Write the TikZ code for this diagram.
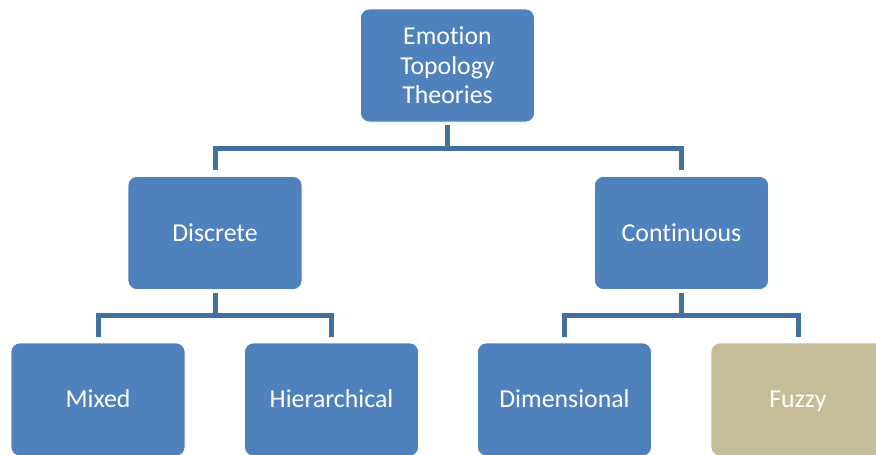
\documentclass[tikz,border=0pt]{standalone}
\usepackage{fontspec}
\setmainfont[Ligatures=NoCommon]{Carlito}
\definecolor{boxblue}{HTML}{4F81BD}
\definecolor{linkblue}{HTML}{41719C}
\definecolor{tan}{HTML}{C4BD97}
\begin{document}
\begin{tikzpicture}[x=1pt,y=-1pt,
  box/.style={rectangle, rounded corners=9pt, fill=boxblue, draw=white, line width=0.6pt,
    minimum width=174pt, minimum height=113pt, text=white, align=center,
    font=\fontsize{25.8pt}{29.5pt}\selectfont, inner sep=0pt},
  single/.style={box, text height=16.6pt, text depth=0pt},
  tanbox/.style={single, fill=tan},
  conn/.style={draw=linkblue, line width=5pt, line join=miter}]
\useasboundingbox (0,0) rectangle (876,455);
\clip (0,0) rectangle (876,455);
\node[box] (top) at (447.5,65.5) {Emotion\\Topology\\Theories};
\node[single] (disc) at (215,233) {Discrete};
\node[single] (cont) at (681.5,233) {Continuous};
\node[single] (mixed) at (98,399.5) {Mixed};
\node[single] (hier) at (331.5,399.5) {Hierarchical};
\node[single] (dim) at (564.5,399.5) {Dimensional};
\node[tanbox] (fuzzy) at (798,399.5) {Fuzzy};
\draw[conn] ([yshift=-3pt]top.south) -- ([yshift=-26pt]top.south) -| ([yshift=6pt]disc.north);
\draw[conn] ([yshift=-26pt]top.south) -| ([yshift=6pt]cont.north);
\draw[conn] ([yshift=-3pt]disc.south) -- ([yshift=-26pt]disc.south) -| ([yshift=6pt]mixed.north);
\draw[conn] ([yshift=-26pt]disc.south) -| ([yshift=6pt]hier.north);
\draw[conn] ([yshift=-3pt]cont.south) -- ([yshift=-26pt]cont.south) -| ([yshift=6pt]dim.north);
\draw[conn] ([yshift=-26pt]cont.south) -| ([yshift=6pt]fuzzy.north);
\end{tikzpicture}
\end{document}
